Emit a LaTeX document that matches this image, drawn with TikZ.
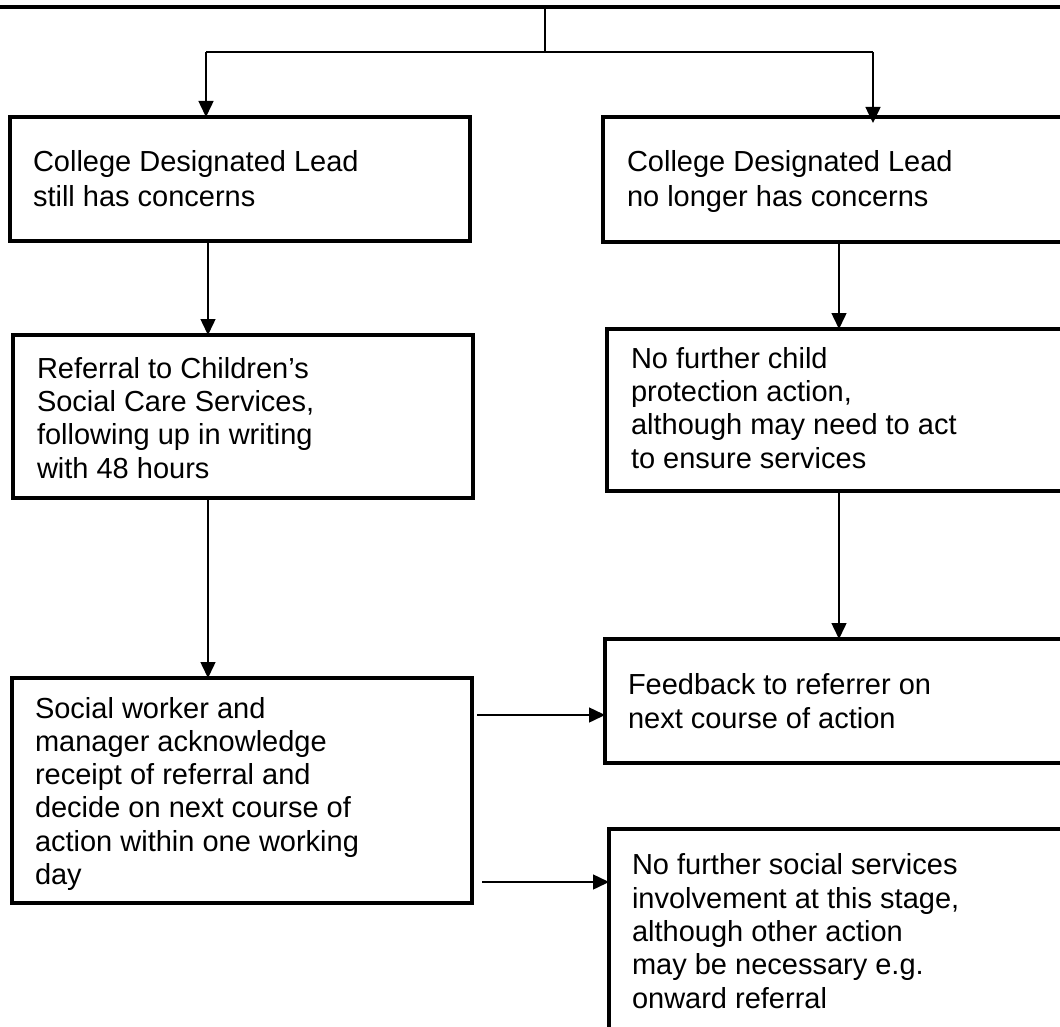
\documentclass[tikz,border=0pt]{standalone}
\usepackage{fontspec}
\setmainfont{Liberation Sans}
\usetikzlibrary{arrows.meta}
\tikzset{
  boxstyle/.style={draw=black, line width=4pt, rectangle, anchor=north west, outer sep=0pt, inner sep=0pt},
  txtstyle/.style={anchor=base west, align=left, inner sep=0pt, outer sep=0pt, font=\fontsize{29}{33.3}\selectfont},
  conn/.style={draw=black, line width=1.5pt},
  arr/.style={conn, -{Triangle[length=16pt,width=15pt]}}
}
\begin{document}
\begin{tikzpicture}[x=1pt,y=-1pt]
\useasboundingbox (0,0) rectangle (1060,1027);
\clip (0,0) rectangle (1060,1027);
% top bar (bottom edge of a box above the frame)
\node[boxstyle, line width=4.5pt, minimum width=1100pt, minimum height=40pt] (top) at (-20,-33) {};
% boxes
\node[boxstyle, minimum width=460pt, minimum height=124pt] (b1) at (10,117) {};
\node[boxstyle, minimum width=480pt, minimum height=125pt] (b2) at (603,117) {};
\node[boxstyle, minimum width=460pt, minimum height=163pt] (b3) at (13,335) {};
\node[boxstyle, minimum width=480pt, minimum height=162pt] (b4) at (607,329) {};
\node[boxstyle, minimum width=480pt, minimum height=124pt] (b5) at (605,639) {};
\node[boxstyle, minimum width=480pt, minimum height=230pt] (b6) at (609,829) {};
\node[boxstyle, minimum width=460pt, minimum height=225pt] (b7) at (12,678) {};
% texts (anchored at the baseline of their last line)
\node[txtstyle, font=\fontsize{29}{35}\selectfont] (t1) at (33,207) {College Designated Lead\\still has concerns};
\node[txtstyle, font=\fontsize{29}{35}\selectfont] (t2) at (627,207) {College Designated Lead\\no longer has concerns};
\node[txtstyle] (t3) at (37,478) {Referral to Children’s\\Social Care Services,\\following up in writing\\with 48 hours};
\node[txtstyle] (t4) at (631,468) {No further child\\protection action,\\although may need to act\\to ensure services};
\node[txtstyle] (t5) at (628,728) {Feedback to referrer on\\next course of action};
\node[txtstyle] (t6) at (632,1008) {No further social services\\involvement at this stage,\\although other action\\may be necessary e.g.\\onward referral};
\node[txtstyle] (t7) at (35,884.5) {Social worker and\\manager acknowledge\\receipt of referral and\\decide on next course of\\action within one working\\day};
% connector helpers
\coordinate (stem) at (545,0);
\coordinate (split) at (545,52);
\coordinate (sl) at (206,52);
\coordinate (sr) at (873,52);
\coordinate (xl) at (208,0);
\coordinate (xr) at (839,0);
\coordinate (y1) at (0,715);
\coordinate (y2) at (0,882);
% connectors
\draw[conn] (top.south -| stem) -- (split);
\draw[conn, line width=2pt] (sl) -- (sr);
\draw[arr] (sl) -- (b1.north -| sl);
\draw[arr] (sr) -- ([yshift=-6pt]b2.north -| sr);
\draw[arr] (b1.south -| xl) -- (b3.north -| xl);
\draw[arr] (b3.south -| xl) -- (b7.north -| xl);
\draw[arr] (b2.south -| xr) -- (b4.north -| xr);
\draw[arr] (b4.south -| xr) -- (b5.north -| xr);
\draw[arr] ([xshift=5pt]b7.east |- y1) -- (b5.west |- y1);
\draw[arr] ([xshift=10pt]b7.east |- y2) -- (b6.west |- y2);
\end{tikzpicture}
\end{document}
